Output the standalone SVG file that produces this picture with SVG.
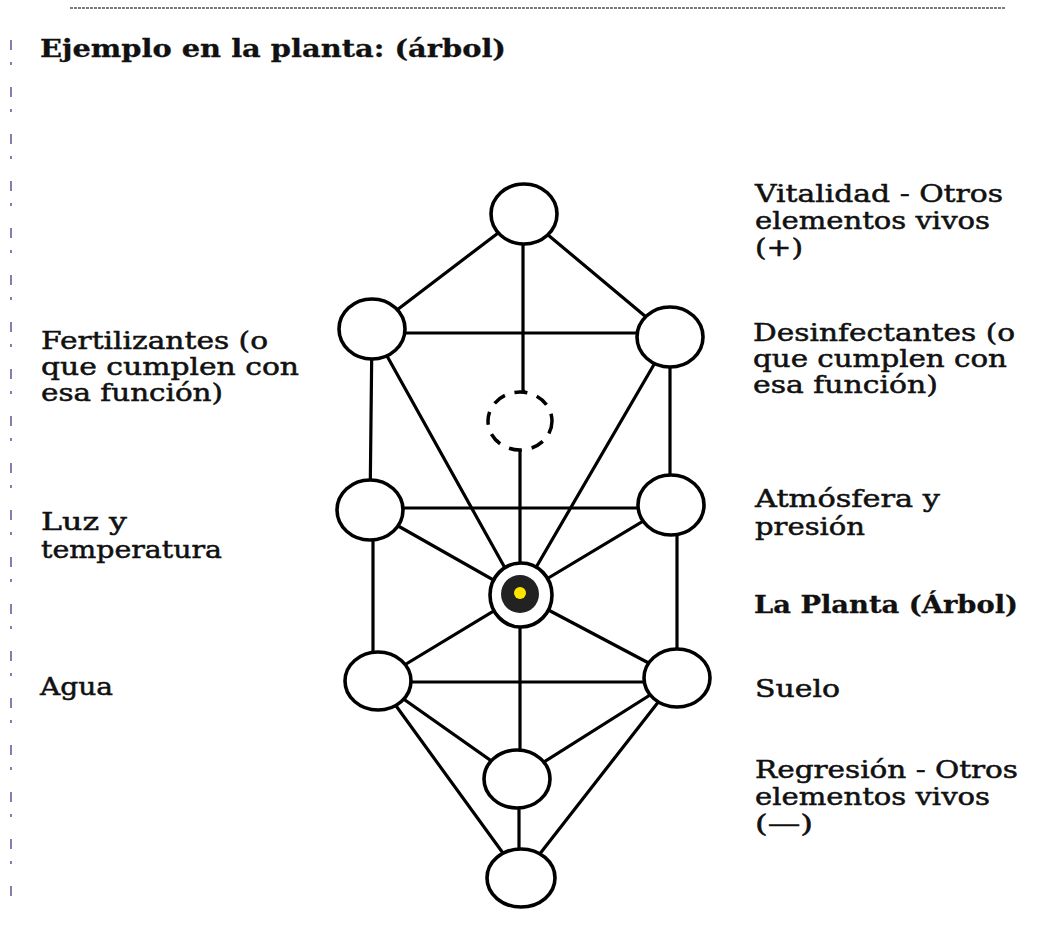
<svg xmlns="http://www.w3.org/2000/svg" width="1064" height="938" viewBox="0 0 1064 938">
<style>
.node{fill:#fff;stroke:#000;stroke-width:3.6}
.edge{stroke:#000;stroke-width:3.2;fill:none;stroke-linecap:round}
.lbl{font-family:"DejaVu Serif","Liberation Serif",serif;font-size:24px;fill:#111;stroke:#111;stroke-width:0.5}
.b{font-weight:bold;stroke-width:0.3}
</style>
<rect width="1064" height="938" fill="#fff"/>
<line x1="70" y1="8" x2="1005" y2="8" stroke="#555" stroke-width="1.5" stroke-dasharray="3 1"/>
<line x1="11" y1="40" x2="11" y2="900" stroke="#4a4a90" stroke-width="1.4" stroke-dasharray="10 12 3 22"/>
<text class="lbl b" x="40" y="57" font-size="27" textLength="466" lengthAdjust="spacingAndGlyphs">Ejemplo en la planta: (árbol)</text>
<g id="connectors">
<line class="edge" x1="523" y1="214" x2="372" y2="329"/>
<line class="edge" x1="523" y1="214" x2="670" y2="337"/>
<polyline class="edge" points="523,214 523,390 527,396"/>
<line class="edge" x1="372" y1="333" x2="670" y2="333"/>
<line class="edge" x1="372" y1="329" x2="370" y2="510"/>
<line class="edge" x1="670" y1="337" x2="670" y2="505"/>
<line class="edge" x1="372" y1="329" x2="520" y2="595"/>
<line class="edge" x1="670" y1="337" x2="520" y2="595"/>
<polyline class="edge" points="510,446 520,450 520,595"/>
<line class="edge" x1="370" y1="508" x2="670" y2="508"/>
<line class="edge" x1="370" y1="510" x2="520" y2="595"/>
<line class="edge" x1="670" y1="505" x2="520" y2="595"/>
<line class="edge" x1="373" y1="510" x2="373" y2="681"/>
<line class="edge" x1="677" y1="505" x2="677" y2="678"/>
<line class="edge" x1="378" y1="682" x2="677" y2="682"/>
<line class="edge" x1="378" y1="681" x2="520" y2="595"/>
<line class="edge" x1="677" y1="678" x2="520" y2="595"/>
<line class="edge" x1="520" y1="595" x2="520" y2="779"/>
<line class="edge" x1="378" y1="681" x2="517" y2="779"/>
<line class="edge" x1="677" y1="678" x2="517" y2="779"/>
<line class="edge" x1="378" y1="681" x2="521" y2="878"/>
<line class="edge" x1="677" y1="678" x2="521" y2="878"/>
<line class="edge" x1="519" y1="779" x2="519" y2="878"/>
</g>
<g id="n-top"><ellipse class="node" cx="524" cy="214" rx="33" ry="30"/></g>
<g id="n-ul"><ellipse class="node" cx="372" cy="329" rx="33" ry="30"/></g>
<g id="n-ur"><ellipse class="node" cx="670" cy="337" rx="33" ry="30"/></g>
<g id="n-dashed"><ellipse cx="520" cy="421" rx="32" ry="29" fill="#fff" stroke="#000" stroke-width="3.5" stroke-dasharray="13 10"/></g>
<g id="n-ml"><ellipse class="node" cx="370" cy="510" rx="33" ry="30"/></g>
<g id="n-mr"><ellipse class="node" cx="671" cy="505" rx="33" ry="30"/></g>
<g id="n-center">
<ellipse class="node" cx="521" cy="595" rx="31" ry="32"/>
<circle cx="520" cy="594" r="19" fill="#222"/>
<circle cx="520" cy="593" r="6" fill="#ffe600"/>
</g>
<g id="n-ll"><ellipse class="node" cx="378" cy="681" rx="33" ry="29"/></g>
<g id="n-lr"><ellipse class="node" cx="677" cy="678" rx="33" ry="29"/></g>
<g id="n-lm"><ellipse class="node" cx="517" cy="779" rx="33" ry="29"/></g>
<g id="n-bottom"><ellipse class="node" cx="521" cy="878" rx="34" ry="29"/></g>
<g id="labels-left">
<text class="lbl" x="41" y="349" textLength="227" lengthAdjust="spacingAndGlyphs">Fertilizantes (o</text>
<text class="lbl" x="41" y="375" textLength="258" lengthAdjust="spacingAndGlyphs">que cumplen con</text>
<text class="lbl" x="41" y="401" textLength="182" lengthAdjust="spacingAndGlyphs">esa función)</text>
<text class="lbl" x="41" y="530" textLength="86" lengthAdjust="spacingAndGlyphs">Luz y</text>
<text class="lbl" x="41" y="558" textLength="181" lengthAdjust="spacingAndGlyphs">temperatura</text>
<text class="lbl" x="40" y="695" textLength="73" lengthAdjust="spacingAndGlyphs">Agua</text>
</g>
<g id="labels-right">
<text class="lbl" x="755" y="202" textLength="248" lengthAdjust="spacingAndGlyphs">Vitalidad - Otros</text>
<text class="lbl" x="755" y="229" textLength="235" lengthAdjust="spacingAndGlyphs">elementos vivos</text>
<text class="lbl" x="755" y="256" textLength="48" lengthAdjust="spacingAndGlyphs">(+)</text>
<text class="lbl" x="753" y="341" textLength="262" lengthAdjust="spacingAndGlyphs">Desinfectantes (o</text>
<text class="lbl" x="753" y="367" textLength="254" lengthAdjust="spacingAndGlyphs">que cumplen con</text>
<text class="lbl" x="753" y="393" textLength="185" lengthAdjust="spacingAndGlyphs">esa función)</text>
<text class="lbl" x="755" y="507" textLength="185" lengthAdjust="spacingAndGlyphs">Atmósfera y</text>
<text class="lbl" x="755" y="535" textLength="110" lengthAdjust="spacingAndGlyphs">presión</text>
<text class="lbl b" x="754" y="613" textLength="264" lengthAdjust="spacingAndGlyphs">La Planta (Árbol)</text>
<text class="lbl" x="755" y="697" textLength="85" lengthAdjust="spacingAndGlyphs">Suelo</text>
<text class="lbl" x="755" y="778" textLength="263" lengthAdjust="spacingAndGlyphs">Regresión - Otros</text>
<text class="lbl" x="755" y="805" textLength="235" lengthAdjust="spacingAndGlyphs">elementos vivos</text>
<text class="lbl" x="755" y="832" textLength="58" lengthAdjust="spacingAndGlyphs">(—)</text>
</g>
</svg>
